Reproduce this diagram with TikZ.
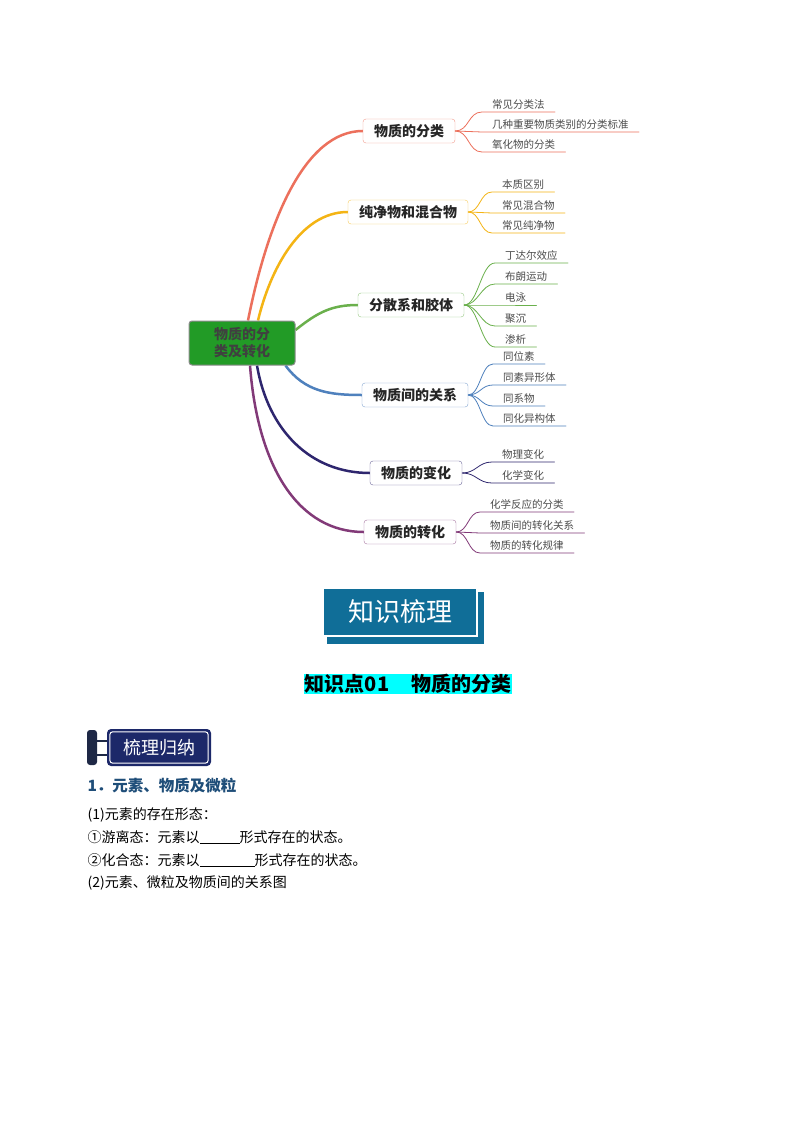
\documentclass[tikz,border=0pt]{standalone}
\usepackage{fontspec}
\setmainfont{Noto Sans CJK SC}
\usetikzlibrary{calc, backgrounds}

\definecolor{cRed}{RGB}{236,112,92}
\definecolor{cOrange}{RGB}{244,180,20}
\definecolor{cGreen}{RGB}{106,176,76}
\definecolor{cBlue}{RGB}{79,129,189}
\definecolor{cNavy}{RGB}{46,38,110}
\definecolor{cPurple}{RGB}{130,58,120}
\definecolor{cRoot}{RGB}{34,155,38}
\definecolor{cTeal}{RGB}{16,110,152}
\definecolor{cBadge}{RGB}{28,40,105}
\definecolor{cBar}{RGB}{30,40,70}
\definecolor{cHead}{RGB}{31,78,121}
\definecolor{cCyan}{RGB}{0,255,255}

\begin{document}
\begin{tikzpicture}[x=1pt, y=-1pt, line cap=round,
  root/.style={fill=cRoot, draw=black!45, line width=1pt, rounded corners=3pt,
    minimum width=106pt, minimum height=44pt, align=center, text=black!75,
    font=\fontsize{14}{17}\selectfont\bfseries},
  topic/.style={draw=#1!70, fill=white, rounded corners=3pt, minimum height=24pt,
    inner xsep=11pt, text=black!85, font=\fontsize{14}{14}\selectfont\bfseries},
  leaf/.style={anchor=south west, inner xsep=10pt, inner ysep=2.5pt, text=black!70,
    font=\fontsize{10.5}{10.5}\selectfont},
  bough/.style={draw=#1, line width=2.5pt},
  twig/.style={draw=#1, line width=0.8pt}]
\useasboundingbox (0,0) rectangle (794,1123);

% centre and the six topics
\node[root] (c) at (242,343) {物质的分\\类及转化};
\node[topic=cRed] (m1) at (409,131) {物质的分类};
\node[topic=cOrange] (m2) at (408,212) {纯净物和混合物};
\node[topic=cGreen] (m3) at (411,305) {分散系和胶体};
\node[topic=cBlue] (m4) at (415,395) {物质间的关系};
\node[topic=cNavy] (m5) at (416,473) {物质的变化};
\node[topic=cPurple] (m6) at (410,532) {物质的转化};

% main branches, behind the boxes
\begin{scope}[on background layer]
  \fill[white] (0,0) rectangle (794,1123);
  \draw[bough=cRed] ($(c.north)+(6,0)$) .. controls (268,220) and (305,131) .. (m1.west);
  \draw[bough=cOrange] ($(c.north)+(16,0)$) .. controls (270,270) and (300,212) .. (m2.west);
  \draw[bough=cGreen] ($(c.east)+(0,-13)$) .. controls (318,312) and (332,305) .. (m3.west);
  \draw[bough=cBlue] ($(c.south east)+(-10,0)$) .. controls (305,392) and (330,395) .. (m4.west);
  \draw[bough=cNavy] ($(c.south)+(15,0)$) .. controls (268,430) and (310,473) .. (m5.west);
  \draw[bough=cPurple] ($(c.south)+(8,0)$) .. controls (258,470) and (300,532) .. (m6.west);
\end{scope}

% leaves
\foreach \n/\y/\t in {a/112/常见分类法, b/132/几种重要物质类别的分类标准, c/152/氧化物的分类} {
  \node[leaf] (l1\n) at (482,\y) {\t};
  \draw[twig=cRed] (m1.east) .. controls +(14,0) and +(-14,0) .. (l1\n.south west) -- (l1\n.south east);
}
\foreach \n/\y/\t in {a/192/本质区别, b/213/常见混合物, c/233/常见纯净物} {
  \node[leaf] (l2\n) at (492,\y) {\t};
  \draw[twig=cOrange] (m2.east) .. controls +(12,0) and +(-12,0) .. (l2\n.south west) -- (l2\n.south east);
}
\foreach \n/\y/\t in {a/263/丁达尔效应, b/284/布朗运动, c/305/电泳, d/326/聚沉, e/347/渗析} {
  \node[leaf] (l3\n) at (495,\y) {\t};
  \draw[twig=cGreen] (m3.east) .. controls +(14,0) and +(-14,0) .. (l3\n.south west) -- (l3\n.south east);
}
\foreach \n/\y/\t in {a/364/同位素, b/385/同素异形体, c/406/同系物, d/426/同化异构体} {
  \node[leaf] (l4\n) at (493,\y) {\t};
  \draw[twig=cBlue] (m4.east) .. controls +(12,0) and +(-12,0) .. (l4\n.south west) -- (l4\n.south east);
}
\foreach \n/\y/\t in {a/462/物理变化, b/483/化学变化} {
  \node[leaf] (l5\n) at (492,\y) {\t};
  \draw[twig=cNavy] (m5.east) .. controls +(14,0) and +(-14,0) .. (l5\n.south west) -- (l5\n.south east);
}
\foreach \n/\y/\t in {a/512/化学反应的分类, b/533/物质间的转化关系, c/553/物质的转化规律} {
  \node[leaf] (l6\n) at (480,\y) {\t};
  \draw[twig=cPurple] (m6.east) .. controls +(12,0) and +(-12,0) .. (l6\n.south west) -- (l6\n.south east);
}

% title block
\node[fill=cTeal, draw=white, line width=1.5pt, minimum width=154pt, minimum height=48pt,
  text=white, font=\fontsize{26}{26}\selectfont] (kt) at (400,612) {知识梳理};
\begin{scope}[on background layer]
  \fill[cTeal] ($(kt.south west)+(5,7)$) rectangle ($(kt.north east)+(6,5)$);
\end{scope}
\node[fill=cCyan, inner xsep=1pt, inner ysep=0pt, minimum height=19pt,
  font=\fontsize{20}{20}\selectfont\bfseries] (kp) at (408,684) {知识点01\hspace{22pt}物质的分类};

% badge
\fill[cBar, rounded corners=3pt] (87,730) rectangle (97,765);
\draw[cBar, line width=1.2pt] (97,741) -- (107,741) (97,755) -- (107,755);
\node[fill=cBadge, rounded corners=4pt, minimum width=104pt, minimum height=37pt,
  text=white, font=\fontsize{18}{18}\selectfont] (gn) at (159,747.5) {梳理归纳};
\draw[white, line width=1pt, rounded corners=3pt] ($(gn.south west)+(3,-3)$) rectangle ($(gn.north east)+(-3,3)$);

% text lines
\node[anchor=west, text=cHead, font=\fontsize{15.5}{15.5}\selectfont\bfseries] (h1) at (84,786) {1．元素、物质及微粒};
\begin{scope}[every node/.style={anchor=west, font=\fontsize{14}{14}\selectfont}]
  \node (t1) at (84,815) {(1)元素的存在形态：};
  \node (t2) at (84,837) {①游离态：元素以\rule[-1pt]{40pt}{0.6pt}形式存在的状态。};
  \node (t3) at (84,860) {②化合态：元素以\rule[-1pt]{55pt}{0.6pt}形式存在的状态。};
  \node (t4) at (84,883) {(2)元素、微粒及物质间的关系图};
\end{scope}
\end{tikzpicture}
\end{document}
